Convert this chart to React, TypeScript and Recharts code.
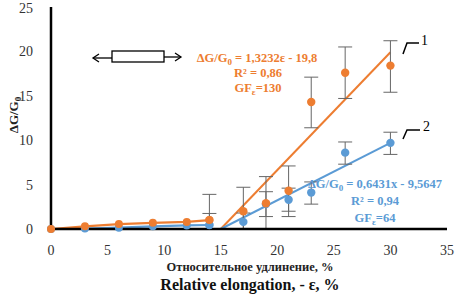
import { ComposedChart, Line, Scatter, ErrorBar, XAxis, YAxis } from "recharts"

// strain, %
const strain = [0, 3, 6, 9, 12, 14, 17, 19, 21, 23, 26, 30]

// curve 1 (orange) and curve 2 (blue), ΔG/G0
const orangeValues = [0, 0.3, 0.55, 0.7, 0.8, 1.0, 2.0, 2.9, 4.3, 14.3, 17.6, 18.4]
const orangeErrLow = [0, 0, 0, 0, 0, 1.0, 2.0, 2.9, 2.9, 2.9, 2.9, 3.0]
const orangeErrHigh = [0, 0, 0, 0, 0, 2.9, 2.7, 3.0, 2.8, 2.8, 2.9, 2.8]

const blueValues = [0, 0.05, 0.15, 0.3, 0.4, 0.45, 0.8, 2.8, 3.3, 4.1, 8.6, 9.7]
const blueErrLow = [0, 0, 0, 0, 0, 0.45, 0.8, 1.4, 1.3, 1.3, 1.3, 1.3]
const blueErrHigh = [0, 0, 0, 0, 0, 1.3, 1.0, 1.4, 1.3, 1.2, 1.2, 1.2]

// linear fits, start/end points
const trendX = [15, 30]
const orangeTrend = [0, 19.9]
const blueTrend = [0, 9.7]

const xTicks = [0, 5, 10, 15, 20, 25, 30, 35]
const yTicks = [0, 5, 10, 15, 20, 25]

const ORANGE = "#ED7D31"
const BLUE = "#5B9BD5"
const FONT = "Liberation Serif, serif"

const SPLIT = 5 // index where the connected part ends and the scatter part begins

const build = (vals: number[], lo: number[], hi: number[]) =>
  strain.map((x, i) => ({ x, y: vals[i], err: [lo[i], hi[i]] }))

const orangeAll = build(orangeValues, orangeErrLow, orangeErrHigh)
const blueAll = build(blueValues, blueErrLow, blueErrHigh)

const orangeLine = orangeAll.slice(0, SPLIT + 1)
const blueLine = blueAll.slice(0, SPLIT + 1)
const orangeScatter = orangeAll.slice(SPLIT)
const blueScatter = blueAll.slice(SPLIT)

const orangeFit = trendX.map((x, i) => ({ x, y: orangeTrend[i] }))
const blueFit = trendX.map((x, i) => ({ x, y: blueTrend[i] }))

const dotShape = (color: string) => (props: any) =>
  <circle cx={props.cx} cy={props.cy} r={4.2} fill={color} />

const tickStyle = { fill: "#333", fontSize: 14, style: { fontFamily: FONT } }

export default function App() {
  return (
    <div style={{ position: "absolute", left: 0, top: 0, width: 459, height: 297, background: "#fff", fontFamily: FONT }}>
      <ComposedChart width={459} height={297} margin={{ top: 7, right: 12, bottom: 0, left: 0 }} style={{ fontFamily: FONT }}>
        <XAxis
          type="number"
          dataKey="x"
          domain={[0, 35]}
          ticks={xTicks}
          height={68}
          axisLine={{ stroke: "#000", strokeWidth: 2.5 }}
          tickLine={false}
          tickMargin={10}
          tick={tickStyle}
        />
        <YAxis
          type="number"
          dataKey="y"
          domain={[0, 25]}
          ticks={yTicks}
          width={51}
          axisLine={{ stroke: "#000", strokeWidth: 2.5 }}
          tickLine={false}
          tickMargin={12}
          tick={tickStyle}
        />
        <Line data={blueLine} dataKey="y" stroke={BLUE} strokeWidth={2.2} dot={{ r: 4, fill: BLUE, stroke: "none" }} isAnimationActive={false} />
        <Line data={orangeLine} dataKey="y" stroke={ORANGE} strokeWidth={2.2} dot={{ r: 4, fill: ORANGE, stroke: "none" }} isAnimationActive={false} />
        <Line data={orangeFit} dataKey="y" stroke={ORANGE} strokeWidth={2} dot={false} isAnimationActive={false} />
        <Line data={blueFit} dataKey="y" stroke={BLUE} strokeWidth={2} dot={false} isAnimationActive={false} />
        <Scatter data={blueScatter} dataKey="y" shape={dotShape(BLUE)} isAnimationActive={false}>
          <ErrorBar dataKey="err" direction="y" width={7} stroke="#666" strokeWidth={1} />
        </Scatter>
        <Scatter data={orangeScatter} dataKey="y" shape={dotShape(ORANGE)} isAnimationActive={false}>
          <ErrorBar dataKey="err" direction="y" width={7} stroke="#666" strokeWidth={1} />
        </Scatter>
      </ComposedChart>
      <svg width={459} height={297} style={{ position: "absolute", left: 0, top: 0, pointerEvents: "none", fontFamily: FONT }}>
        <g fontWeight="bold">
          {/* y axis title */}
          <text x={18} y={115} transform="rotate(-90 18 115)" textAnchor="middle" fontSize={13} fill="#222">
            ΔG/G<tspan fontSize={9} dy={3}>0</tspan>
          </text>
          {/* x axis titles */}
          <text x={250} y={271} textAnchor="middle" fontSize={12.5} fill="#222">Относительное удлинение, %</text>
          <text x={250} y={290} textAnchor="middle" fontSize={16} fill="#111">Relative elongation, - ε, %</text>

          {/* fit 1 */}
          <g fill={ORANGE} fontSize={12.5} textAnchor="middle">
            <text x={257} y={62}>ΔG/G<tspan fontSize={9} dy={3}>0</tspan><tspan dy={-3}> = 1,3232ε - 19,8</tspan></text>
            <text x={258} y={77}>R² = 0,86</text>
            <text x={258} y={92}>GF<tspan fontSize={9} dy={3}>ε</tspan><tspan dy={-3}>=130</tspan></text>
          </g>
          {/* fit 2 */}
          <g fill={BLUE} fontSize={12.5} textAnchor="middle">
            <text x={375} y={188}>ΔG/G<tspan fontSize={9} dy={3}>0</tspan><tspan dy={-3}> = 0,6431x - 9,5647</tspan></text>
            <text x={375} y={205}>R² = 0,94</text>
            <text x={375} y={222}>GF<tspan fontSize={9} dy={3}>ε</tspan><tspan dy={-3}>=64</tspan></text>
          </g>
        </g>

        {/* curve numbers */}
        <g stroke="#000" strokeWidth={1.5} fill="none">
          <polyline points="403,54 407,43 419,43" />
          <polyline points="403,139 407,130 420,130" />
        </g>
        <g fontSize={14} fill="#000">
          <text x={421} y={45}>1</text>
          <text x={423} y={131}>2</text>
        </g>

        {/* specimen sketch */}
        <g stroke="#000" strokeWidth={1.3} fill="none">
          <rect x={112} y={51} width={52} height={11} fill="#fff" />
          <line x1={93} y1={58} x2={112} y2={58} />
          <polyline points="99,54 93,58 99,62" />
          <line x1={164} y1={57} x2={181} y2={57} />
          <polyline points="175,53 181,57 175,61" />
        </g>
      </svg>
    </div>
  )
}
